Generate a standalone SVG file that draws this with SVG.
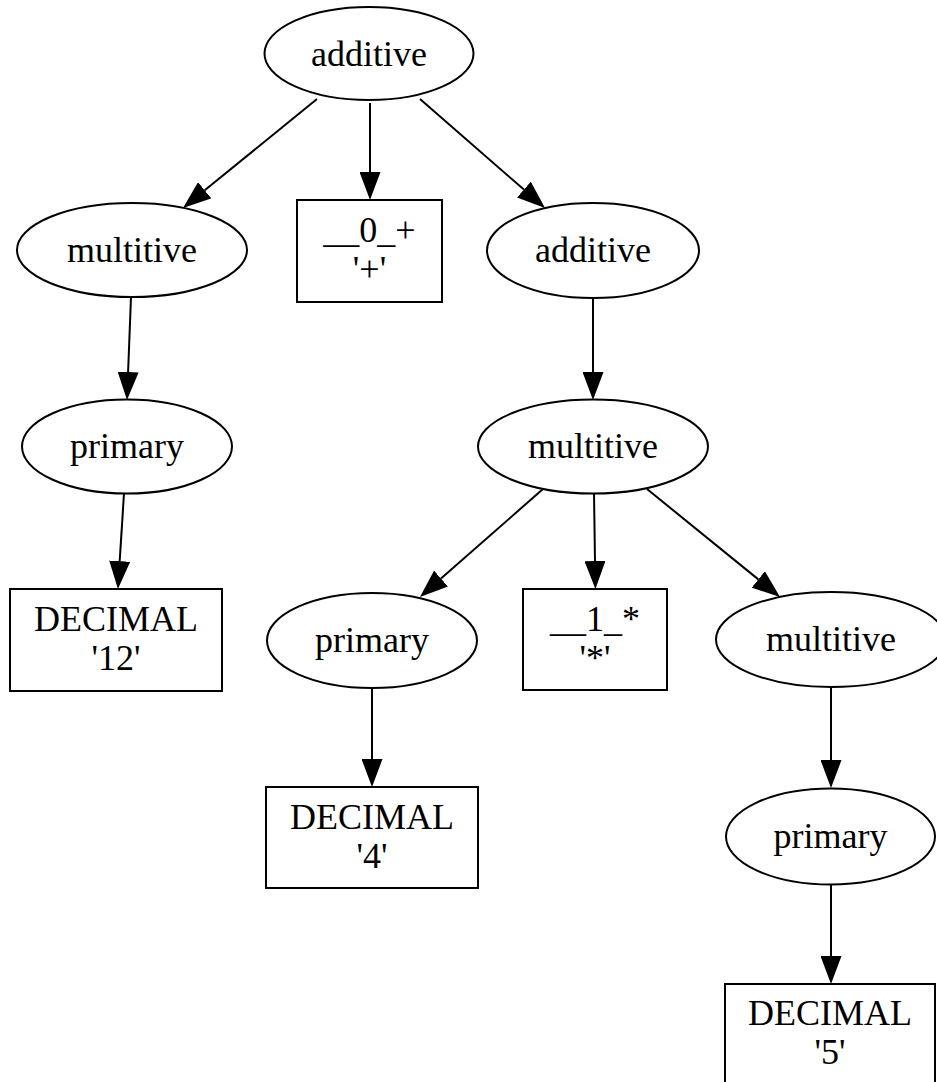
<svg xmlns="http://www.w3.org/2000/svg" width="937" height="1082" viewBox="0 0 937 1082">
<style>
.n{fill:#fff;stroke:#000;stroke-width:2}
.e{fill:none;stroke:#000;stroke-width:2}
text{font-family:"Liberation Serif","Times New Roman",serif;font-size:36px;fill:#000;text-anchor:middle}
</style>
<defs>
<marker id="ah" viewBox="0 0 28 21" refX="0" refY="10.5" markerWidth="28" markerHeight="21" markerUnits="userSpaceOnUse" orient="auto">
<path d="M0,0 L28,10.5 L0,21 Z" fill="#000"/>
</marker>
</defs>
<rect width="937" height="1082" fill="#fff"/>
<g id="edges">
<line class="e" x1="317" y1="99" x2="204.7" y2="190.3" marker-end="url(#ah)"/>
<line class="e" x1="370" y1="103" x2="370" y2="172" marker-end="url(#ah)"/>
<line class="e" x1="420" y1="99" x2="523.9" y2="189.6" marker-end="url(#ah)"/>
<line class="e" x1="131" y1="297" x2="128.1" y2="372" marker-end="url(#ah)"/>
<line class="e" x1="124" y1="493" x2="119.7" y2="561.1" marker-end="url(#ah)"/>
<line class="e" x1="593" y1="298" x2="593" y2="372" marker-end="url(#ah)"/>
<line class="e" x1="543" y1="489" x2="441" y2="578.5" marker-end="url(#ah)"/>
<line class="e" x1="594" y1="493" x2="595" y2="561" marker-end="url(#ah)"/>
<line class="e" x1="647" y1="489" x2="758.3" y2="579.4" marker-end="url(#ah)"/>
<line class="e" x1="372" y1="688" x2="372" y2="759" marker-end="url(#ah)"/>
<line class="e" x1="831" y1="687" x2="831" y2="760" marker-end="url(#ah)"/>
<line class="e" x1="831" y1="885" x2="831" y2="956" marker-end="url(#ah)"/>
</g>
<g id="n0"><ellipse class="n" cx="369" cy="53.5" rx="104.5" ry="46.5"/><text x="369" y="66">additive</text></g>
<g id="n1"><ellipse class="n" cx="132" cy="250" rx="115" ry="47"/><text x="132" y="262">multitive</text></g>
<g id="n2"><rect class="n" x="297" y="200" width="145" height="102"/><text x="369.5" y="242">__0_+</text><text x="369.5" y="281">'+'</text></g>
<g id="n3"><ellipse class="n" cx="593" cy="250.5" rx="106" ry="47.5"/><text x="593" y="262">additive</text></g>
<g id="n4"><ellipse class="n" cx="127" cy="446.5" rx="105" ry="47"/><text x="127" y="458">primary</text></g>
<g id="n5"><rect class="n" x="10" y="589" width="212" height="102"/><text x="116" y="631">DECIMAL</text><text x="116" y="670">'12'</text></g>
<g id="n6"><ellipse class="n" cx="593" cy="446.5" rx="115" ry="47"/><text x="593" y="458">multitive</text></g>
<g id="n7"><ellipse class="n" cx="372" cy="640.5" rx="105" ry="47.5"/><text x="372" y="652">primary</text></g>
<g id="n8"><rect class="n" x="523" y="589" width="144" height="101"/><text x="595" y="631">__1_*</text><text x="595" y="670">'*'</text></g>
<g id="n9"><ellipse class="n" cx="831" cy="639.5" rx="115" ry="47.5"/><text x="831" y="651">multitive</text></g>
<g id="n10"><rect class="n" x="266" y="787" width="212" height="101"/><text x="372" y="829">DECIMAL</text><text x="372" y="868">'4'</text></g>
<g id="n11"><ellipse class="n" cx="830.5" cy="836.5" rx="104.5" ry="48"/><text x="830.5" y="848">primary</text></g>
<g id="n12"><rect class="n" x="725" y="984" width="210" height="103"/><text x="830" y="1025">DECIMAL</text><text x="830" y="1064">'5'</text></g>
</svg>
